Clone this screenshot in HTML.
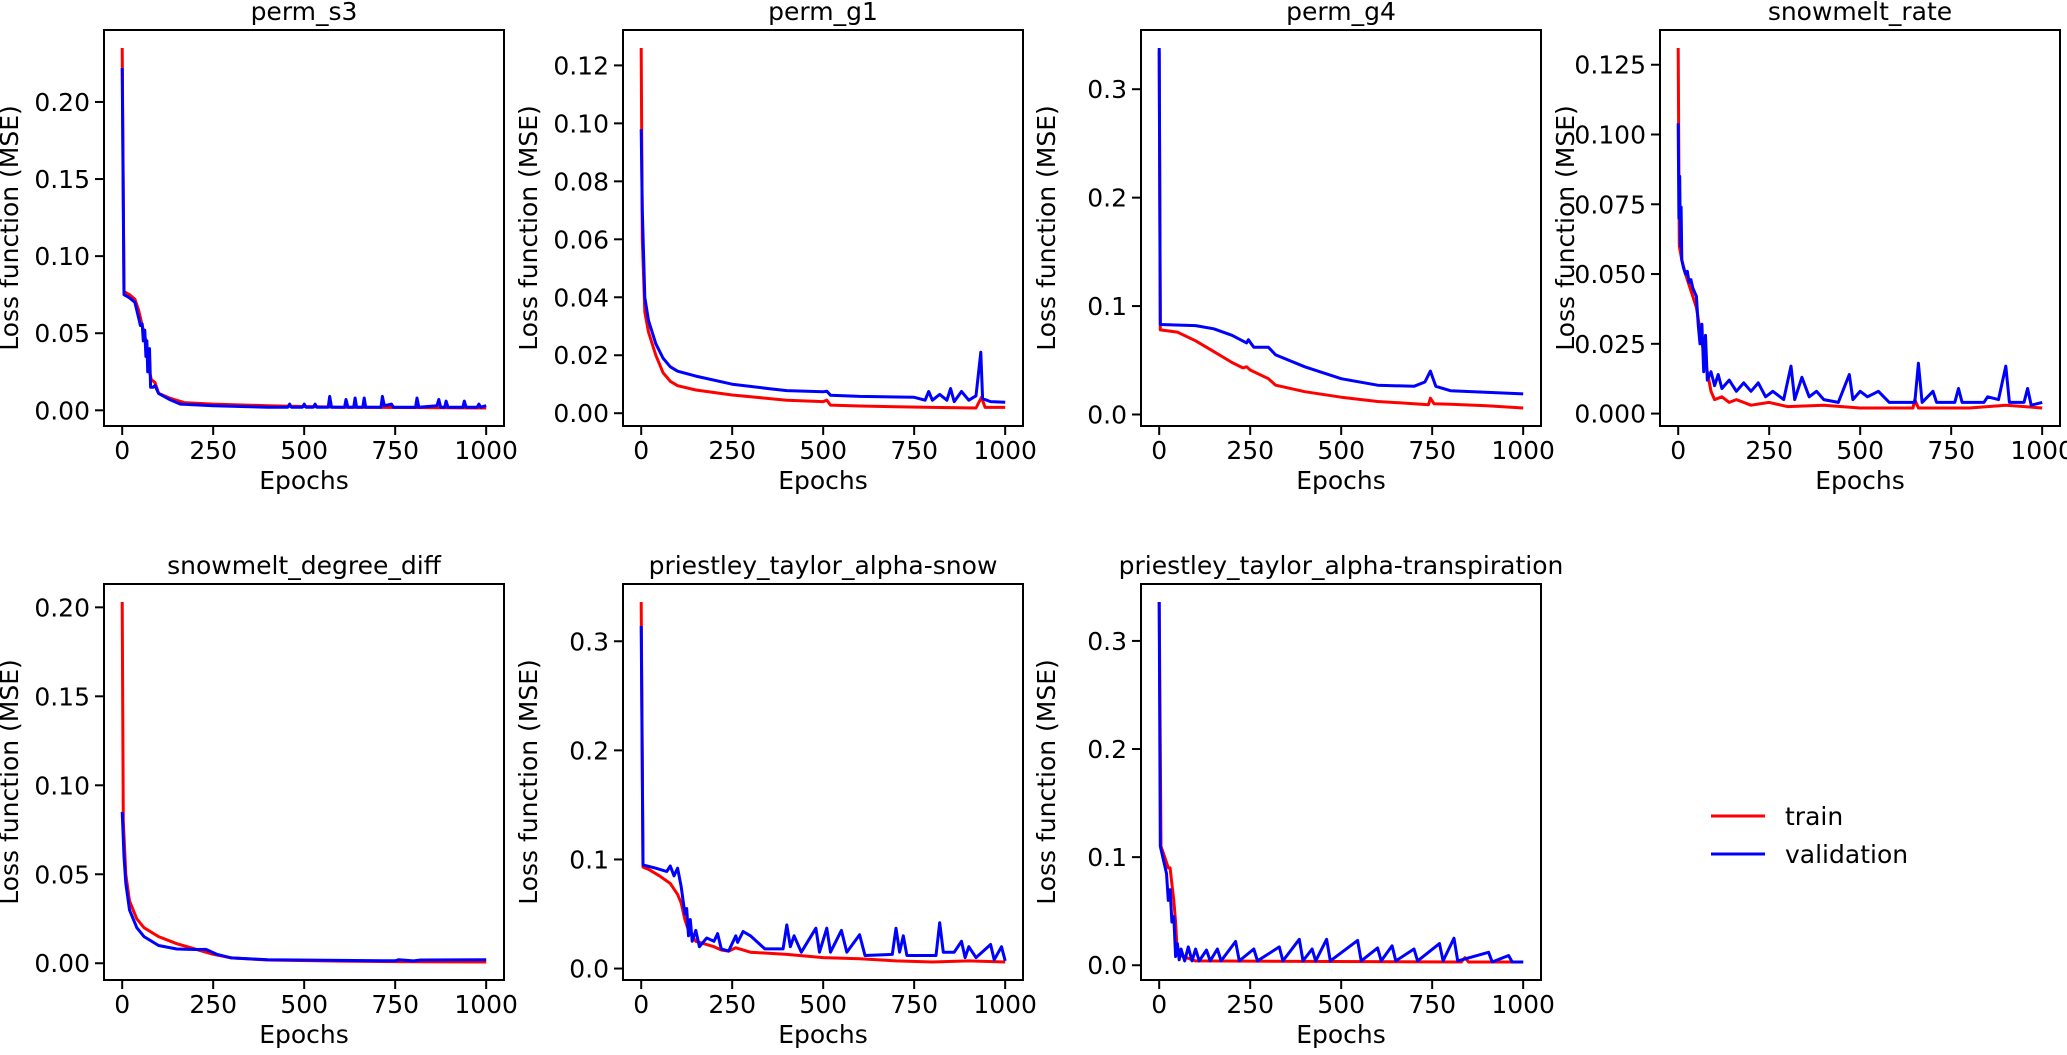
<!DOCTYPE html>
<html><head><meta charset="utf-8"><style>
html,body{margin:0;padding:0;background:#fff;}
svg text{font-family:"DejaVu Sans","Liberation Sans",sans-serif;fill:#000;}
</style></head><body>
<svg id="fig" width="2067" height="1050" viewBox="0 0 2067 1050" xmlns="http://www.w3.org/2000/svg">
<rect width="2067" height="1050" fill="#fff"/>
<g>
<line x1="1711" y1="816" x2="1765" y2="816" stroke="#ff0000" stroke-width="3"/>
<text x="1785" y="825" font-size="25">train</text>
<line x1="1711" y1="854" x2="1765" y2="854" stroke="#0000ff" stroke-width="3"/>
<text x="1785" y="863" font-size="25">validation</text>
</g>
</svg>
<script>
const xTicks = [0,250,500,750,1000];
const titles = ["perm_s3","perm_g1","perm_g4","snowmelt_rate","snowmelt_degree_diff","priestley_taylor_alpha-snow","priestley_taylor_alpha-transpiration"];
const yTicksS3 = [0,0.05,0.10,0.15,0.20];
const yTicksG1 = [0,0.02,0.04,0.06,0.08,0.10,0.12];
const yTicksG4 = [0,0.1,0.2,0.3];
const yTicksRate = [0,0.025,0.05,0.075,0.1,0.125];
const yTicksDeg = [0,0.05,0.10,0.15,0.20];
const yTicksSnow = [0,0.1,0.2,0.3];
const yTicksTrans = [0,0.1,0.2,0.3];
const tickDigits = [2,2,1,3,2,1,1];

const permS3Train = [[0,0.235],[5,0.077],[20,0.075],[35,0.072],[45,0.065],[55,0.055],[65,0.045],[75,0.025],[80,0.02],[90,0.018],[100,0.011],[130,0.008],[170,0.005],[250,0.004],[400,0.003],[600,0.002],[1000,0.0015]];
const permS3Val = [[0,0.222],[5,0.075],[20,0.073],[35,0.070],[45,0.060],[50,0.055],[55,0.056],[58,0.045],[62,0.052],[65,0.035],[68,0.045],[70,0.025],[75,0.04],[78,0.015],[85,0.015],[90,0.016],[100,0.011],[130,0.007],[160,0.004],[250,0.003],[400,0.002],[455,0.002],[460,0.004],[465,0.002],[495,0.002],[500,0.004],[505,0.002],[525,0.002],[530,0.004],[535,0.002],[566,0.002],[570,0.009],[575,0.002],[611,0.002],[615,0.007],[620,0.002],[636,0.002],[640,0.008],[644,0.002],[661,0.002],[665,0.008],[669,0.002],[711,0.002],[715,0.009],[720,0.003],[740,0.004],[745,0.002],[806,0.002],[810,0.008],[815,0.002],[865,0.003],[870,0.007],[875,0.002],[886,0.002],[890,0.006],[895,0.002],[936,0.002],[940,0.006],[945,0.002],[975,0.002],[980,0.004],[985,0.002],[1000,0.003]];
const permG1Train = [[0,0.126],[3,0.06],[10,0.035],[20,0.028],[40,0.020],[60,0.014],[80,0.011],[100,0.0095],[150,0.008],[250,0.0063],[400,0.0045],[500,0.004],[510,0.0045],[520,0.0028],[600,0.0025],[800,0.002],[920,0.0018],[935,0.0055],[945,0.002],[1000,0.002]];
const permG1Val = [[0,0.098],[3,0.07],[10,0.04],[20,0.032],[40,0.024],[60,0.019],[80,0.016],[100,0.0145],[150,0.0128],[250,0.010],[350,0.0085],[400,0.0078],[500,0.0074],[510,0.0076],[520,0.0062],[600,0.0058],[750,0.0055],[780,0.0045],[790,0.0075],[800,0.0045],[820,0.0065],[840,0.0045],[850,0.0085],[860,0.004],[880,0.0075],[900,0.0045],[920,0.006],[933,0.021],[938,0.005],[960,0.004],[1000,0.0038]];
const permG4Train = [[0,0.335],[3,0.078],[50,0.076],[100,0.068],[150,0.058],[200,0.048],[230,0.043],[240,0.044],[250,0.041],[300,0.033],[320,0.027],[400,0.021],[500,0.016],[600,0.012],[700,0.010],[740,0.009],[745,0.015],[755,0.01],[800,0.0095],[900,0.008],[1000,0.006]];
const permG4Val = [[0,0.338],[3,0.083],[100,0.082],[150,0.079],[200,0.073],[240,0.066],[245,0.069],[260,0.062],[300,0.062],[320,0.055],[400,0.044],[500,0.033],[600,0.027],[700,0.026],[730,0.03],[745,0.04],[760,0.026],[800,0.022],[1000,0.019]];
const rateTrain = [[0,0.131],[3,0.06],[10,0.055],[20,0.050],[30,0.046],[40,0.042],[50,0.038],[60,0.030],[70,0.022],[80,0.015],[90,0.008],[100,0.005],[120,0.006],[140,0.004],[160,0.005],[200,0.003],[250,0.004],[300,0.0025],[400,0.003],[500,0.002],[645,0.002],[650,0.005],[660,0.002],[800,0.002],[900,0.003],[1000,0.002]];
const rateVal = [[0,0.104],[2,0.07],[4,0.085],[6,0.06],[8,0.074],[10,0.055],[15,0.052],[20,0.05],[25,0.051],[30,0.047],[35,0.048],[40,0.045],[50,0.042],[55,0.032],[60,0.025],[65,0.032],[70,0.015],[75,0.028],[80,0.012],[90,0.015],[100,0.010],[110,0.014],[120,0.009],[140,0.012],[160,0.008],[180,0.011],[200,0.008],[220,0.011],[240,0.006],[260,0.008],[290,0.005],[310,0.017],[320,0.005],[340,0.013],[360,0.006],[380,0.008],[400,0.005],[440,0.004],[470,0.014],[480,0.005],[500,0.008],[520,0.006],[550,0.008],[580,0.004],[650,0.004],[660,0.018],[670,0.004],[700,0.008],[710,0.004],[760,0.004],[770,0.009],[780,0.004],[840,0.004],[850,0.006],[880,0.005],[900,0.017],[910,0.004],[950,0.004],[960,0.009],[970,0.003],[1000,0.004]];
const degTrain = [[0,0.203],[3,0.08],[10,0.05],[20,0.035],[40,0.025],[60,0.020],[100,0.015],[150,0.011],[200,0.008],[250,0.005],[300,0.003],[400,0.0018],[600,0.0012],[800,0.0008],[1000,0.0007]];
const degVal = [[0,0.085],[5,0.06],[10,0.045],[20,0.03],[40,0.02],[60,0.015],[100,0.010],[150,0.008],[200,0.0077],[230,0.0078],[260,0.005],[300,0.003],[400,0.002],[600,0.0016],[750,0.0014],[760,0.002],[800,0.0013],[820,0.0018],[1000,0.002]];
const snowTrain = [[0,0.336],[5,0.093],[20,0.091],[50,0.085],[80,0.078],[100,0.068],[110,0.060],[120,0.045],[130,0.035],[150,0.025],[200,0.02],[220,0.017],[240,0.016],[260,0.019],[300,0.015],[400,0.013],[500,0.010],[600,0.009],[700,0.007],[800,0.006],[900,0.007],[1000,0.006]];
const snowVal = [[0,0.314],[5,0.095],[40,0.092],[70,0.089],[80,0.094],[90,0.085],[100,0.092],[110,0.075],[120,0.05],[125,0.055],[130,0.03],[135,0.045],[140,0.025],[150,0.035],[160,0.02],[180,0.028],[200,0.025],[210,0.032],[220,0.018],[240,0.016],[260,0.03],[265,0.024],[280,0.034],[300,0.03],[340,0.018],[390,0.018],[400,0.04],[410,0.02],[420,0.03],[440,0.015],[480,0.037],[490,0.015],[510,0.037],[520,0.015],[550,0.035],[565,0.015],[600,0.031],[615,0.012],[690,0.013],[700,0.037],[710,0.015],[720,0.030],[730,0.012],[810,0.012],[820,0.042],[830,0.015],[860,0.015],[880,0.025],[890,0.01],[900,0.02],[920,0.01],[960,0.022],[970,0.008],[990,0.02],[1000,0.007]];
const transTrain = [[0,0.336],[5,0.11],[15,0.1],[25,0.09],[30,0.09],[35,0.075],[40,0.06],[45,0.04],[50,0.01],[100,0.004],[830,0.003],[840,0.007],[850,0.003],[1000,0.003]];
const transVal = [[0,0.336],[3,0.11],[10,0.1],[20,0.085],[25,0.06],[30,0.07],[35,0.04],[40,0.045],[45,0.008],[50,0.02],[55,0.005],[60,0.015],[70,0.004],[80,0.017],[90,0.004],[100,0.015],[110,0.004],[130,0.014],[140,0.004],[160,0.015],[170,0.004],[210,0.022],[220,0.004],[260,0.015],[270,0.004],[330,0.017],[340,0.004],[385,0.024],[395,0.004],[420,0.015],[430,0.004],[460,0.024],[470,0.004],[545,0.023],[555,0.004],[600,0.016],[610,0.004],[640,0.018],[650,0.004],[700,0.015],[710,0.004],[770,0.02],[780,0.004],[810,0.025],[820,0.004],[905,0.012],[915,0.003],[960,0.009],[970,0.003],[1000,0.003]];

const trainSeries = [permS3Train, permG1Train, permG4Train, rateTrain, degTrain, snowTrain, transTrain];
const valSeries = [permS3Val, permG1Val, permG4Val, rateVal, degVal, snowVal, transVal];
const yTickSets = [yTicksS3, yTicksG1, yTicksG4, yTicksRate, yTicksDeg, yTicksSnow, yTicksTrans];

const NS = "http://www.w3.org/2000/svg";
const svg = document.getElementById('fig');
const boxLefts = [104,623,1141,1660,104,623,1141];
const boxTops = [30,30,30,30,584,584,584];
const W = 400, H = 396;
function mk(tag, attrs, parent){ const e=document.createElementNS(NS,tag); for(const k in attrs) e.setAttribute(k,attrs[k]); parent.appendChild(e); return e; }

for (let p=0;p<7;p++){
  const L=boxLefts[p], T=boxTops[p];
  const g = mk('g',{},svg);
  
  
  const all = trainSeries[p].concat(valSeries[p]).map(d=>d[1]);
  let ymin=Math.min(...all), ymax=Math.max(...all);
  const r=ymax-ymin; ymin-=0.05*r; ymax+=0.05*r;
  const xmin=-50, xmax=1049;
  const sx = v => L + (v-xmin)/(xmax-xmin)*W;
  const sy = v => T + H - (v-ymin)/(ymax-ymin)*H;
  const plotClip = mk('clipPath',{id:'clip'+p},g);
  mk('rect',{x:L,y:T,width:W,height:H},plotClip);
  [[trainSeries[p],'#ff0000','train-line'],[valSeries[p],'#0000ff','validation-line']].forEach(([s,c,n])=>{
    const pl = mk('polyline',{points:s.map(d=>sx(d[0]).toFixed(1)+','+sy(d[1]).toFixed(1)).join(' '),fill:'none',stroke:c,'stroke-width':3,'stroke-linejoin':'round','clip-path':'url(#clip'+p+')'},g);
    
    
  });
  const frame = mk('rect',{x:L,y:T,width:W,height:H,fill:'none',stroke:'#000','stroke-width':2},g);
  
  
  xTicks.forEach(v=>{
    const x=sx(v);
    mk('line',{x1:x,y1:T+H,x2:x,y2:T+H+9,stroke:'#000','stroke-width':2},g);
    const t=mk('text',{x:x,y:T+H+33,'font-size':25,'text-anchor':'middle'},g);
    t.textContent=v;
    
    
  });
  yTickSets[p].forEach(v=>{
    const y=sy(v);
    mk('line',{x1:L-9,y1:y,x2:L,y2:y,stroke:'#000','stroke-width':2},g);
    const t=mk('text',{x:L-14,y:y+9,'font-size':25,'text-anchor':'end'},g);
    t.textContent=v.toFixed(tickDigits[p]);
    
    
  });
  const ti=mk('text',{x:L+W/2,y:T-10,'font-size':25,'text-anchor':'middle'},g);
  ti.textContent=titles[p];
  
  
  const xl=mk('text',{x:L+W/2,y:T+H+63,'font-size':25,'text-anchor':'middle'},g);
  xl.textContent='Epochs';
  
  
  const yx = L-86, yc=T+H/2;
  const yl=mk('text',{x:yx,y:yc,'font-size':25,'text-anchor':'middle',transform:'rotate(-90 '+yx+' '+yc+')'},g);
  yl.textContent='Loss function (MSE)';
  
  
}
</script>
</body></html>
